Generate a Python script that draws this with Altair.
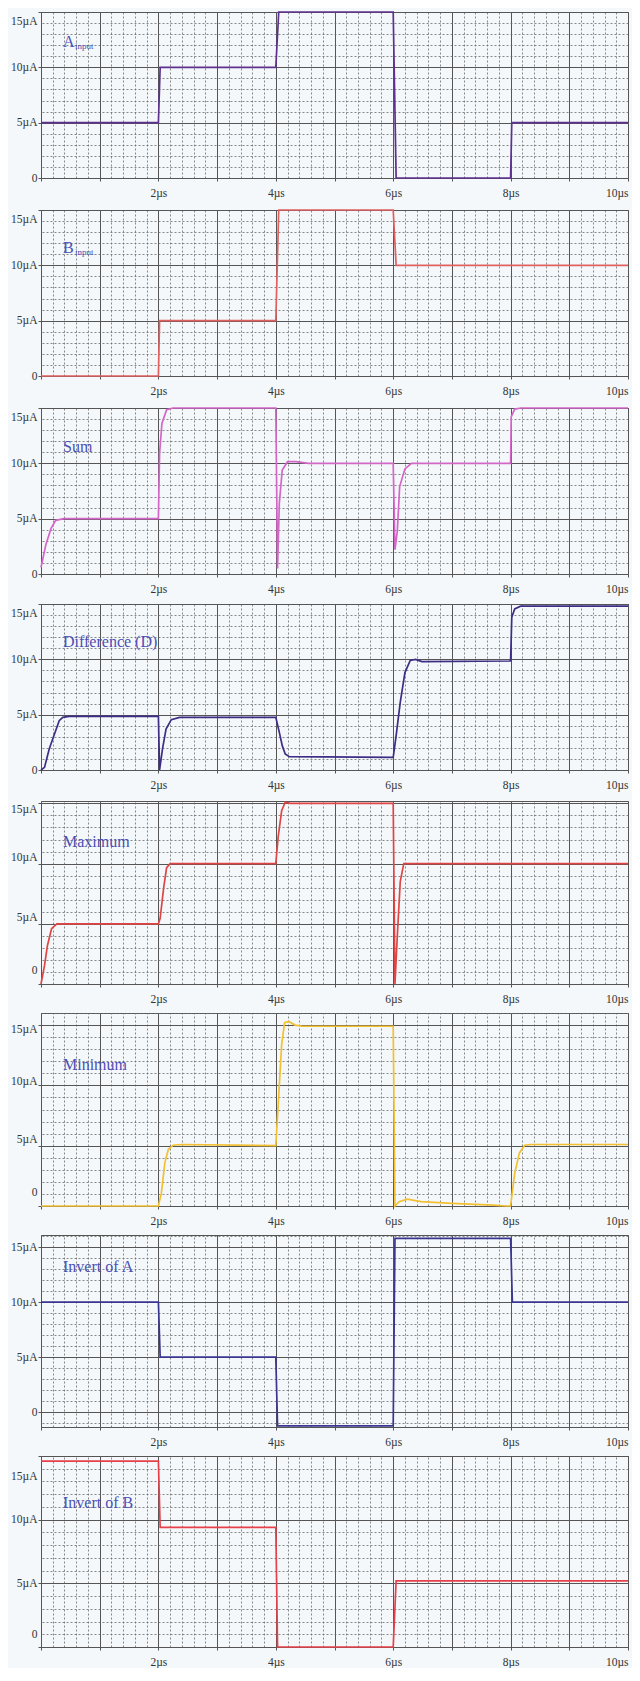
import altair as alt
import pandas as pd

# ---------------- data ----------------
A_t = [0, 2.0, 2.03, 4.0, 4.05, 6.0, 6.05, 8.0, 8.02, 10]
A_v = [5, 5, 10, 10, 15, 15, 0, 0, 5, 5]

B_t = [0, 2.0, 2.02, 4.0, 4.05, 6.0, 6.05, 10]
B_v = [0, 0, 5, 5, 15, 15, 10, 10]

SUM_t = [0, 0.085, 0.17, 0.25, 0.39, 2.0, 2.02, 2.06, 2.14, 2.25, 4.0, 4.03, 4.06, 4.11, 4.2,
         4.34, 4.56, 6.0, 6.03, 6.07, 6.11, 6.2, 6.31, 8.0, 8.01, 8.07, 8.18, 10]
SUM_v = [0.6, 2.7, 4.1, 4.85, 5.0, 5.0, 10.9, 13.6, 14.85, 15, 15, 0.5, 6.4, 9.4, 10.15,
         10.15, 10.0, 10.0, 2.2, 3.9, 7.9, 9.5, 10, 10, 14.2, 14.9, 15, 15]

DIFF_t = [0, 0.06, 0.14, 0.23, 0.31, 0.37, 0.48, 2.0, 2.02, 2.07, 2.13, 2.22, 2.36, 4.0, 4.06,
          4.11, 4.16, 4.23, 6.0, 6.05, 6.12, 6.2, 6.29, 6.38, 6.49, 8.0, 8.02, 8.07, 8.17, 10]
DIFF_v = [0, 0.24, 1.9, 3.25, 4.46, 4.76, 4.85, 4.85, 0, 1.9, 3.7, 4.55, 4.76, 4.76, 3.4,
          2.2, 1.45, 1.2, 1.15, 3.1, 6.1, 8.8, 9.9, 10.0, 9.8, 9.85, 13.8, 14.55, 14.8, 14.8]

MAX_t = [0, 0.06, 0.11, 0.18, 0.27, 2.0, 2.03, 2.09, 2.14, 2.2, 4.0, 4.04, 4.1, 4.16, 4.25,
         6.0, 6.03, 6.07, 6.12, 6.18, 10]
MAX_v = [0, 1.54, 3.2, 4.6, 5.0, 5.0, 5.46, 8.0, 9.66, 10.0, 10.0, 12.2, 14.4, 15.1, 15.0,
         15.0, 0, 4.0, 8.5, 10.0, 10.0]

MIN_t = [0, 2.0, 2.05, 2.11, 2.17, 2.25, 2.4, 4.0, 4.04, 4.1, 4.15, 4.22, 4.33, 4.45, 6.0,
         6.03, 6.1, 6.24, 6.47, 7.0, 7.7, 7.93, 8.0, 8.07, 8.15, 8.24, 8.35, 10]
MIN_v = [0, 0, 1.06, 3.6, 4.7, 5.04, 5.1, 5.0, 8.3, 13.4, 15.2, 15.3, 15.0, 14.9, 14.9,
         0, 0.36, 0.56, 0.36, 0.22, 0.08, 0, 0, 2.7, 4.4, 5.04, 5.1, 5.1]

INVA_t = [0, 2.0, 2.03, 4.0, 4.03, 6.0, 6.03, 8.0, 8.03, 10]
INVA_v = [10, 10, 5, 5, -1.25, -1.25, 15.8, 15.8, 10, 10]

INVB_t = [0, 2.0, 2.03, 4.0, 4.03, 6.0, 6.05, 10]
INVB_v = [14.6, 14.6, 9.4, 9.4, 0, 0, 5.2, 5.2]

Y_TICKS = [0, 5, 10, 15]
X_TICKS = [0, 1, 2, 3, 4, 5, 6, 7, 8, 9, 10]
X_MINOR = [i / 5 for i in range(51)]

TITLE_FONT = "Liberation Serif"
TITLE_COLOR = "#4b4fb5"
W = 587


def panel(t, v, color, lo, top, height, title, sub, title_y, offsets, width_px=1.7):
    df = pd.DataFrame({"t": t, "v": v})
    xs = alt.Scale(domain=[0, 10], nice=False)
    ys = alt.Scale(domain=[lo, top], nice=False, zero=False)
    minor_y = list(range(int(lo), int(top) + 1))

    minor = alt.Chart(df).mark_line(opacity=0).encode(
        x=alt.X("t:Q", scale=xs, axis=alt.Axis(values=X_MINOR, grid=True, gridDash=[2, 2],
                                              gridColor="#6a6a6a", gridWidth=0.8, labels=False,
                                              ticks=False, domain=False, title=None, orient="top",
                                              minExtent=0, maxExtent=0)),
        y=alt.Y("v:Q", scale=ys, axis=alt.Axis(values=minor_y, grid=True, gridDash=[2, 2],
                                              gridColor="#6a6a6a", gridWidth=0.8, labels=False,
                                              ticks=False, domain=False, title=None, orient="right",
                                              minExtent=0, maxExtent=0)),
    )

    lab_off = 0
    if offsets:
        lab_off = {"condition": [{"test": f"datum.value === {k}", "value": o} for k, o in offsets.items()],
                   "value": 0}

    main = alt.Chart(df).mark_line(color=color, strokeWidth=width_px).encode(
        x=alt.X("t:Q", scale=xs, axis=alt.Axis(
            values=X_TICKS, grid=True, gridColor="#555555", gridWidth=1, title=None,
            labelExpr="datum.value > 0 && datum.value % 2 == 0 ? datum.value + 'µs' : ''",
            tickSize=3, tickColor="#555555", labelPadding=6, domain=False, orient="bottom",
            labelFont=TITLE_FONT, labelFontSize=11.5, labelColor="#333333")),
        y=alt.Y("v:Q", scale=ys, axis=alt.Axis(
            values=Y_TICKS, grid=True, gridColor="#555555", gridWidth=1, title=None,
            labelExpr="datum.value == 0 ? '0' : datum.value + 'µA'",
            tickSize=3, tickColor="#555555", labelPadding=1, domain=False, orient="left",
            labelFont=TITLE_FONT, labelFontSize=11.5, labelColor="#333333",
            minExtent=32, labelOffset=lab_off)),
    )

    layers = [minor, main]
    layers.append(alt.Chart(pd.DataFrame({"label": [title]})).mark_text(
        font=TITLE_FONT, fontSize=16, color=TITLE_COLOR, align="left", baseline="middle"
    ).encode(text="label:N", x=alt.value(22), y=alt.value(title_y)))
    if sub:
        layers.append(alt.Chart(pd.DataFrame({"label": [sub]})).mark_text(
            font=TITLE_FONT, fontSize=9, color=TITLE_COLOR, align="left", baseline="middle"
        ).encode(text="label:N", x=alt.value(34), y=alt.value(title_y + 4)))

    return alt.layer(*layers).resolve_axis(x="independent", y="independent").properties(
        width=W, height=height)


panels = [
    panel(A_t, A_v, "#5e3190", 0, 15, 166, "A", "input", 30, {15: 9}),
    panel(B_t, B_v, "#e06060", 0, 15, 166, "B", "input", 38, {15: 9}),
    panel(SUM_t, SUM_v, "#d466c8", 0, 15, 166, "Sum", None, 39, {15: 9}),
    panel(DIFF_t, DIFF_v, "#3d2d85", 0, 15, 166, "Difference (D)", None, 38, {15: 9}),
    panel(MAX_t, MAX_v, "#e04545", 0, 15.2, 183, "Maximum", None, 41, {0: -14, 5: -6, 10: -6, 15: 6}),
    panel(MIN_t, MIN_v, "#f2c030", 0, 16.0, 193, "Minimum", None, 52, {0: -14, 5: -6, 10: -4, 15: 4}),
    panel(INVA_t, INVA_v, "#3a3590", -1.35, 16.1, 192, "Invert of A", None, 32, {}),
    panel(INVB_t, INVB_v, "#e8404a", 0, 15.0, 191, "Invert of B", None, 47, {0: -13, 15: 20}),
]

chart = alt.vconcat(*panels, spacing=7).properties(
    padding=0, background="#f4f8fb"
).configure_view(stroke="#555555", strokeWidth=1)

chart.save("out.html", embed_options={"renderer": "svg", "actions": False})
